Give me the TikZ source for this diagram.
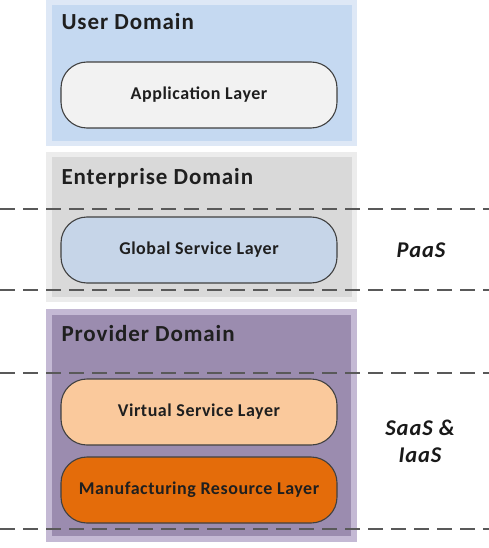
\documentclass[tikz,border=0pt]{standalone}
\usepackage{fontspec}
\setmainfont{Carlito}
\newfontfamily\spacedfont[LetterSpace=4]{Carlito}
\newfontfamily\widefont[LetterSpace=3]{Carlito}
\begin{document}
\begin{tikzpicture}[x=1pt,y=-1pt,
  domaintitle/.style={anchor=west,font=\spacedfont\bfseries\fontsize{23}{27}\selectfont,text=black!88},
  layer/.style={draw=black!75,line width=1.1pt,rounded corners=26pt,
    minimum width=276pt,minimum height=66pt,inner sep=0pt,
    font=\widefont\bfseries\fontsize{18}{21}\selectfont,text=black!88},
  boundary/.style={draw=black!65,line width=1.4pt,dash pattern=on 15pt off 8pt},
  cloudlabel/.style={font=\spacedfont\bfseries\itshape\fontsize{22.5}{27}\selectfont,align=center,text=black!90}]
\useasboundingbox (0,0) rectangle (489,548);
\definecolor{userglow}{RGB}{222,232,246}
\definecolor{userfill}{RGB}{197,217,241}
\definecolor{entglow}{RGB}{236,236,236}
\definecolor{entfill}{RGB}{217,217,217}
\definecolor{provglow}{RGB}{196,185,212}
\definecolor{provfill}{RGB}{155,140,175}
\definecolor{appfill}{RGB}{242,242,242}
\definecolor{globfill}{RGB}{198,213,232}
\definecolor{virtfill}{RGB}{250,201,156}
\definecolor{manufill}{RGB}{228,108,10}

% domain panels: soft outer band and solid body
\fill[userglow] (46,0) rectangle (357,146);
\fill[userfill] (52,5) rectangle (352,141);
\fill[entglow] (46,152) rectangle (357,302);
\fill[entfill] (52,157) rectangle (352,297);
\fill[provglow] (46,309) rectangle (357,542);
\fill[provfill] (52,315) rectangle (351,536);

\node[domaintitle] (tuser) at (58,22) {User Domain};
\node[domaintitle] (tent) at (58,178) {Enterprise Domain};
\node[domaintitle] (tprov) at (58,334) {Provider Domain};

% layers
\node[layer,fill=appfill] (app) at (199,95) {Application Layer};
\node[layer,fill=globfill] (glob) at (199,250) {Global Service Layer};
\node[layer,fill=virtfill] (virt) at (199,412) {Virtual Service Layer};
\node[layer,fill=manufill] (manu) at (199,490) {Manufacturing Resource Layer};

% service model boundaries
\coordinate (l1a) at (0,209);  \coordinate (l1b) at (489,209);
\coordinate (l2a) at (0,290);  \coordinate (l2b) at (489,290);
\coordinate (l3a) at (0,373);  \coordinate (l3b) at (489,373);
\coordinate (l4a) at (0,529);  \coordinate (l4b) at (489,529);
\draw[boundary] (l1a) -- (l1b);
\draw[boundary] (l2a) -- (l2b);
\draw[boundary] (l3a) -- (l3b);
\draw[boundary] (l4a) -- (l4b);

\node[cloudlabel] (paas) at (421,250) {PaaS};
\node[cloudlabel] (saas) at (420,441) {SaaS \&\\IaaS};
\end{tikzpicture}
\end{document}
